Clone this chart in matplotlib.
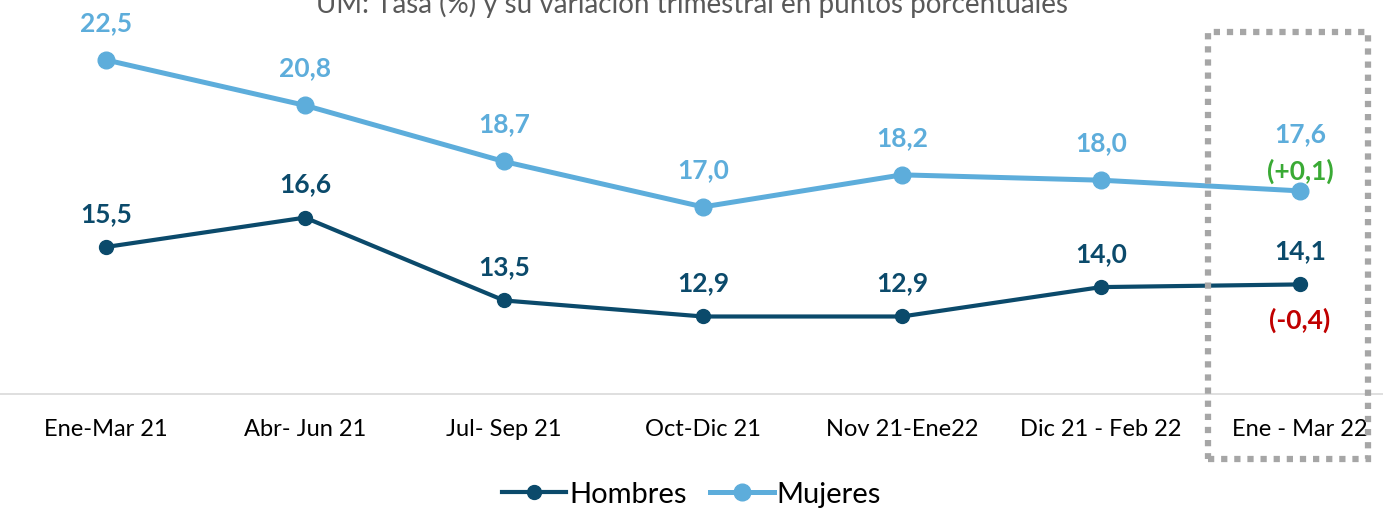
import matplotlib.pyplot as plt
from matplotlib.patches import Rectangle

# data
periodos = ['Ene-Mar 21', 'Abr- Jun 21', 'Jul- Sep 21', 'Oct-Dic 21',
            'Nov 21-Ene22', 'Dic 21 - Feb 22', 'Ene - Mar 22']
hombres = [15.5, 16.6, 13.5, 12.9, 12.9, 14.0, 14.1]
mujeres = [22.5, 20.8, 18.7, 17.0, 18.2, 18.0, 17.6]
var_hombres = '(-0,4)'
var_mujeres = '(+0,1)'

c_hom = '#0B4A6B'
c_muj = '#5DADDB'

plt.rcParams['font.family'] = ['Lato', 'DejaVu Sans']

fig = plt.figure(figsize=(13.83, 5.10), dpi=100)
ax = fig.add_axes([0, 115 / 510, 1, 395 / 510])

x = list(range(len(periodos)))
ax.plot(x, hombres, color=c_hom, lw=3, marker='o', ms=10, label='Hombres')
ax.plot(x, mujeres, color=c_muj, lw=3.6, marker='o', ms=12, label='Mujeres')

ax.set_xlim(-106 / 199, (1383 - 106) / 199)
ax.set_ylim(10, 24.78)

def fmt(v):
    return f'{v:.1f}'.replace('.', ',')

lab = dict(ha='center', va='center', fontsize=19, fontweight='bold',
           textcoords='offset pixels')
for i, v in enumerate(hombres):
    ax.annotate(fmt(v), (i, v), xytext=(0, 34), color=c_hom, **lab)
for i, v in enumerate(mujeres):
    off = 58 if i == len(mujeres) - 1 else 38
    ax.annotate(fmt(v), (i, v), xytext=(0, off), color=c_muj, **lab)

ax.annotate(var_mujeres, (x[-1], mujeres[-1]), xytext=(0, 21), color='#3AAA35', **lab)
ax.annotate(var_hombres, (x[-1], hombres[-1]), xytext=(0, -35), color='#C00000', **lab)

for s in ['top', 'right', 'left']:
    ax.spines[s].set_visible(False)
ax.spines['bottom'].set_color('#D9D9D9')
ax.spines['bottom'].set_linewidth(1.2)
ax.set_yticks([])
ax.set_xticks(x)
ax.set_xticklabels(periodos, fontsize=17, color='black')
ax.tick_params(axis='x', length=0, pad=17)

# dotted highlight box around the last period
box = Rectangle((1208 / 1383, 50 / 510), 160 / 1383, 427 / 510, transform=fig.transFigure,
                fill=False, edgecolor='#A6A6A6', lw=4.5, linestyle=(0, (1, 1.1)), clip_on=False)
fig.patches.append(box)

fig.text(0.5, 1 - 4 / 510, 'UM: Tasa (%) y su variación trimestral en puntos porcentuales',
         ha='center', va='center', fontsize=20, color='#595959')

ax.legend(loc='center', bbox_to_anchor=(0.5, 15 / 510), bbox_transform=fig.transFigure,
          ncol=2, frameon=False, fontsize=21, handlelength=2.2, columnspacing=0.8,
          handletextpad=0.1)

fig.savefig('out.png', dpi=100)
